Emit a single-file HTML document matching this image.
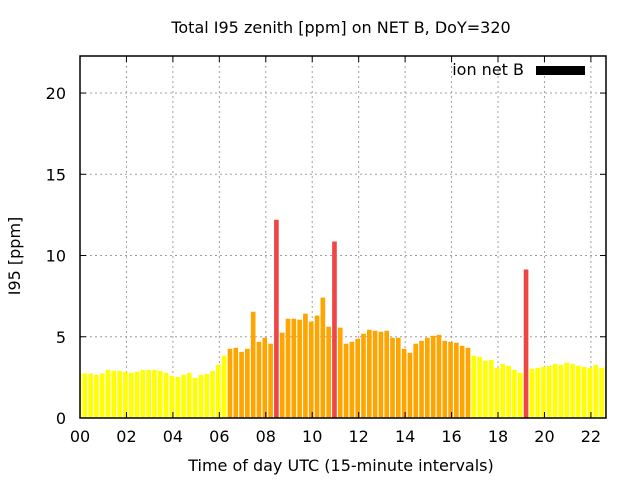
<!DOCTYPE html>
<html><head><meta charset="utf-8"><style>
html,body{margin:0;padding:0;background:#fff;}
svg{display:block;font-family:"DejaVu Sans","Liberation Sans",sans-serif;}
</style></head><body>
<svg id="chart" width="640" height="480" viewBox="0 0 640 480">
<text x="341" y="33" text-anchor="middle" font-size="16">Total I95 zenith [ppm] on NET B, DoY=320</text>
<text x="0" y="0" transform="translate(20,256) rotate(-90)" text-anchor="middle" font-size="16">I95 [ppm]</text>
<text x="341" y="471" text-anchor="middle" font-size="16">Time of day UTC (15-minute intervals)</text>
<g id="grid"></g>
<g id="bars"></g>
<g id="axes"></g>
<g>
<text x="524" y="75" text-anchor="end" font-size="16">ion net B</text>
<rect x="536" y="66" width="49" height="9" fill="#000"></rect>
</g>
</svg>
<script>
const values = [2.78,2.74,2.74,2.65,2.74,2.96,2.9,2.9,2.84,2.78,2.84,2.96,2.96,2.96,2.9,2.78,2.59,2.53,2.65,2.78,2.47,2.65,2.72,2.9,3.27,3.83,
4.26,4.32,4.07,4.26,6.54,4.69,4.94,4.57,12.2,5.25,6.11,6.11,6.05,6.42,5.93,6.3,7.41,5.62,10.86,
5.56,4.57,4.69,4.88,5.19,5.43,5.37,5.31,5.37,4.94,4.94,4.26,4.01,4.57,4.75,4.94,5.06,5.12,4.75,4.69,4.63,4.44,4.32,
3.83,3.77,3.52,3.58,3.09,3.33,3.21,2.96,2.78,9.14,3.02,3.09,3.15,3.21,3.33,3.27,3.4,3.33,3.21,3.15,3.09,3.27,3.09,3.21];
const xTicks = [0,2,4,6,8,10,12,14,16,18,20,22];
const xTickLabels = ["00","02","04","06","08","10","12","14","16","18","20","22"];
const yTicks = [0,5,10,15,20];
const NS="http://www.w3.org/2000/svg";
const L=80,R=606,T=56,B=418,XMAX=22.65,YMAX=22.28;
const xs=h=>L+h/XMAX*(R-L);
const ys=v=>B-v/YMAX*(B-T);
function el(tag,attrs,parent){const e=document.createElementNS(NS,tag);for(const k in attrs)e.setAttribute(k,attrs[k]);parent.appendChild(e);return e;}
const grid=document.getElementById('grid'),bars=document.getElementById('bars'),axes=document.getElementById('axes');
xTicks.forEach((t,i)=>{
  const x=xs(t);
  if(t>0){const g=el('line',{x1:x,x2:x,y1:T,y2:B,stroke:'#a0a0a0','stroke-dasharray':'2,3'},grid);
  
  }
  el('line',{x1:x,x2:x,y1:B,y2:B-6,stroke:'#000'},axes);
  el('line',{x1:x,x2:x,y1:T,y2:T+6,stroke:'#000'},axes);
  const tx=el('text',{x:x,y:B+24,'text-anchor':'middle','font-size':16},axes);
  tx.textContent=xTickLabels[i];
  
  
});
yTicks.forEach(t=>{
  const y=ys(t);
  if(t>0){const g=el('line',{x1:L,x2:R,y1:y,y2:y,stroke:'#a0a0a0','stroke-dasharray':'2,3'},grid);
  
  }
  el('line',{x1:L,x2:L+6,y1:y,y2:y,stroke:'#000'},axes);
  el('line',{x1:R,x2:R-6,y1:y,y2:y,stroke:'#000'},axes);
  const tx=el('text',{x:L-14,y:y+6,'text-anchor':'end','font-size':16},axes);
  tx.textContent=String(t);
  
  
});
values.forEach((v,i)=>{
  const h=i*0.25;
  let x0=xs(h-0.1)-1,x1=xs(h+0.1)-1;
  x0=Math.max(x0,L);x1=Math.min(x1,R);
  if(x1<=x0)return;
  const c=v<4?'#ffff00':(v<8?'#ffa500':'#f04545');
  const r=el('rect',{x:x0,y:ys(v),width:x1-x0,height:B-ys(v),fill:c},bars);
  
  
});
const bd=el('rect',{x:L,y:T,width:R-L,height:B-T,fill:'none',stroke:'#000','stroke-width':1.5},axes);


</script>
</body></html>
